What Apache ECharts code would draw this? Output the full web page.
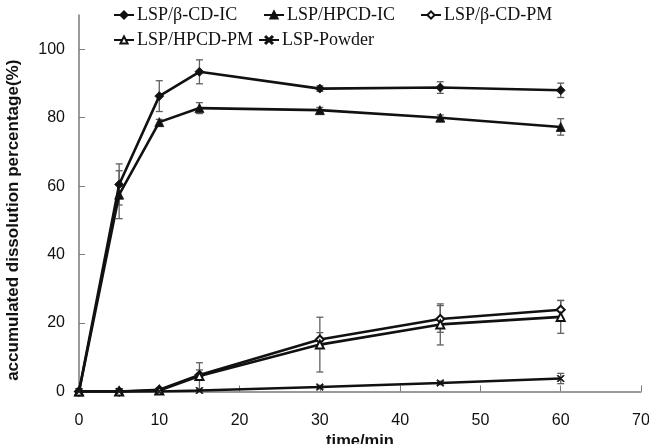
<!DOCTYPE html>
<html>
<head>
<meta charset="utf-8">
<script src="https://cdn.jsdelivr.net/npm/echarts@6/dist/echarts.min.js"></script>
<style>
html,body{margin:0;padding:0;background:#fff;}
#chart{width:649px;height:444px;}
</style>
</head>
<body>
<div id="chart"></div>
<script>
// time points (min)
const times=[0,5,10,15,30,45,60];

// accumulated dissolution (%) and error bars
const betaIC=[0,60.5,86.3,93.4,88.5,88.8,88.0];
const betaICErr=[0,6,4.5,3.5,0.8,1.7,2.1];
const hpcdIC=[0,57.5,78.7,82.8,82.2,80.0,77.3];
const hpcdICErr=[0,7,0.8,1.6,0.8,0.8,2.4];
const betaPM=[0,0,0.5,4.8,15.2,21.2,23.9];
const betaPMErr=[0,0,0.5,1.5,2,3.9,2.7];
const hpcdPM=[0,0,0.3,4.5,13.7,19.6,21.8];
const hpcdPMErr=[0,0,0.5,3.9,8,6,4.8];
const powder=[0,0,0,0.3,1.3,2.5,3.8];
const powderErr=[0,0,0,0,0.5,0.5,1.5];

const yTicks=[0,20,40,60,80,100];
const names=["LSP/β-CD-IC","LSP/HPCD-IC","LSP/β-CD-PM","LSP/HPCD-PM","LSP-Powder"];

const crossPath='path://M0,1L1,0L5,4L9,0L10,1L6,5L10,9L9,10L5,6L1,10L0,9L4,5Z';

const chart=echarts.init(document.getElementById("chart"));

function pairs(vals){
    return times.map((t,i)=>[t,vals[i]]);
}

function lineSeries(name,vals,symbol,size){
    return {
        type:"line",
        name:name,
        data:pairs(vals),
        symbol:symbol,
        symbolSize:size,
        showAllSymbol:true,
        z:3,
        lineStyle:{color:"#111",width:2.6},
        itemStyle:{color:"#111",borderColor:"#111",borderWidth:symbol.indexOf("empty")===0?1.3:0.8}
    };
}

function errSeries(vals,errs){
    return {
        type:"custom",
        silent:true,
        z:2,
        data:times.map((t,i)=>[t,vals[i],errs[i]]),
        renderItem:function(params,api){
            const x=api.value(0),y=api.value(1),e=api.value(2);
            if(!e) return null;
            const top=api.coord([x,y+e]);
            const bot=api.coord([x,y-e]);
            const w=3.5;
            const st={stroke:"#606060",lineWidth:1.3};
            return {
                type:"group",
                children:[
                    {type:"line",shape:{x1:top[0],y1:top[1],x2:bot[0],y2:bot[1]},style:st},
                    {type:"line",shape:{x1:top[0]-w,y1:top[1],x2:top[0]+w,y2:top[1]},style:st},
                    {type:"line",shape:{x1:bot[0]-w,y1:bot[1],x2:bot[0]+w,y2:bot[1]},style:st}
                ]
            };
        }
    };
}

function legendAt(name,left,top){
    return {
        data:[name],
        left:left,
        top:top,
        itemWidth:20,
        itemHeight:9,
        itemGap:4,
        padding:0,
        selectedMode:false,
        textStyle:{fontFamily:"Liberation Serif",fontSize:18,color:"#111",padding:[0,0,0,-2]}
    };
}

const option={
    animation:false,
    backgroundColor:"#fff",
    grid:{left:79,right:8,top:15,bottom:52.5,containLabel:false,outerBoundsMode:"none"},
    legend:[
        legendAt(names[0],113,6),
        legendAt(names[1],263,6),
        legendAt(names[2],420,6),
        legendAt(names[3],113,31),
        legendAt(names[4],258,31)
    ],
    xAxis:{
        type:"value",
        min:0,
        max:70,
        interval:10,
        name:"time/min",
        nameLocation:"middle",
        nameGap:36,
        nameTextStyle:{fontFamily:"Liberation Sans",fontWeight:"bold",fontSize:16.5,color:"#111"},
        axisLine:{lineStyle:{color:"#7a7a7a",width:1.5}},
        axisTick:{inside:true,length:6,lineStyle:{color:"#7a7a7a"}},
        axisLabel:{fontFamily:"Liberation Sans",fontSize:16,color:"#111",margin:21},
        splitLine:{show:false}
    },
    yAxis:{
        type:"value",
        min:0,
        max:110,
        interval:20,
        name:"accumulated dissolution percentage(%)",
        nameLocation:"middle",
        nameRotate:90,
        nameGap:57,
        nameTextStyle:{fontFamily:"Liberation Sans",fontWeight:"bold",fontSize:17,color:"#111",padding:[0,34,0,0]},
        axisLine:{show:true,lineStyle:{color:"#7a7a7a",width:1.5}},
        axisTick:{show:true,inside:true,length:6,lineStyle:{color:"#7a7a7a"},customValues:yTicks},
        axisLabel:{fontFamily:"Liberation Sans",fontSize:16,color:"#111",margin:14,customValues:yTicks},
        splitLine:{show:false}
    },
    series:[
        errSeries(betaIC,betaICErr),
        errSeries(hpcdIC,hpcdICErr),
        errSeries(betaPM,betaPMErr),
        errSeries(hpcdPM,hpcdPMErr),
        errSeries(powder,powderErr),
        lineSeries(names[0],betaIC,"diamond",9),
        lineSeries(names[1],hpcdIC,"triangle",9),
        lineSeries(names[2],betaPM,"emptyDiamond",8),
        lineSeries(names[3],hpcdPM,"emptyTriangle",8),
        lineSeries(names[4],powder,crossPath,7)
    ]
};
chart.setOption(option);
</script>
</body>
</html>
